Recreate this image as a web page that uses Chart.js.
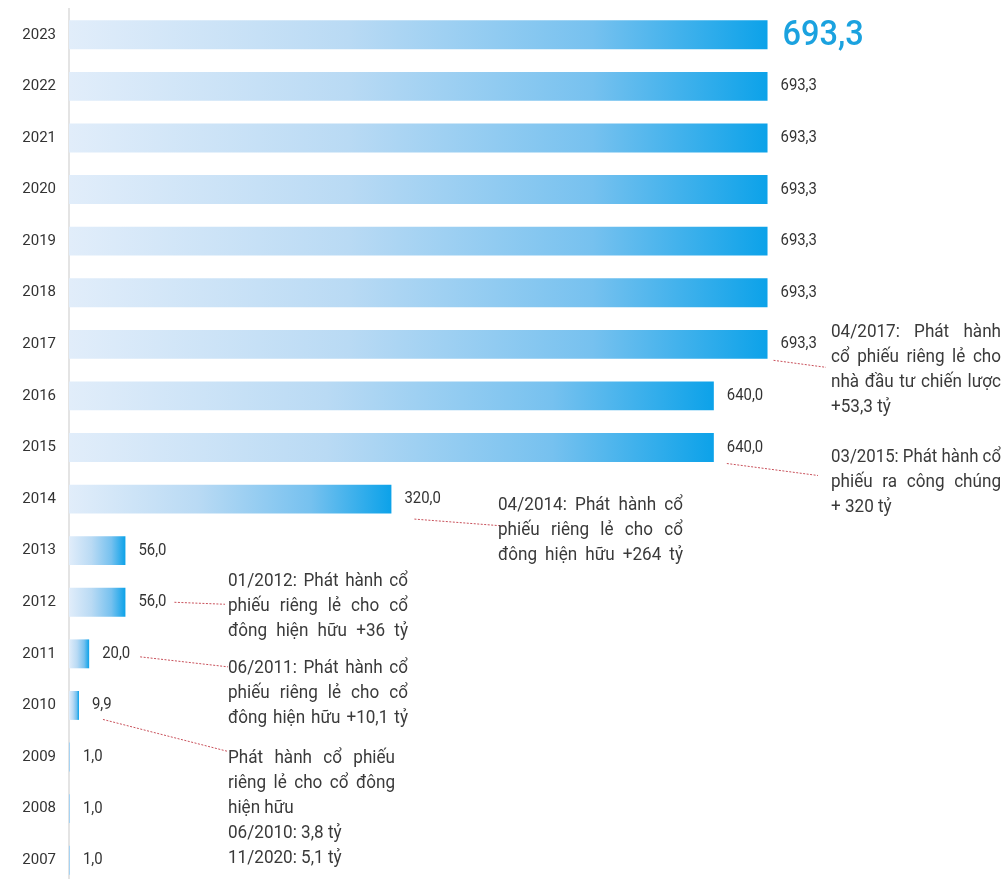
<!DOCTYPE html>
<html>
<head>
<meta charset="utf-8">
<script src="https://cdn.jsdelivr.net/npm/chart.js@4"></script>
<style>
  html, body { margin: 0; padding: 0; background: #fff; overflow: hidden; }
  #wrap { position: relative; width: 1004px; height: 886px; }
</style>
</head>
<body>
<div id="wrap"><canvas id="c"></canvas></div>
<script>
// Vốn điều lệ theo năm (tỷ đồng)
const years = ['2023', '2022', '2021', '2020', '2019', '2018', '2017', '2016', '2015',
               '2014', '2013', '2012', '2011', '2010', '2009', '2008', '2007'];
const charterCapital = [693.3, 693.3, 693.3, 693.3, 693.3, 693.3, 693.3, 640.0, 640.0,
                        320.0, 56.0, 56.0, 20.0, 9.9, 1.0, 1.0, 1.0];

// Ghi chú các đợt phát hành
const noteYears = ['2017', '2015', '2014', '2012', '2011', '2010'];
const noteLines = [
  ['04/2017: Phát hành', 'cổ phiếu riêng lẻ cho', 'nhà đầu tư chiến lược', '+53,3 tỷ'],
  ['03/2015: Phát hành cổ', 'phiếu ra công chúng', '+ 320 tỷ'],
  ['04/2014: Phát hành cổ', 'phiếu riêng lẻ cho cổ', 'đông hiện hữu +264 tỷ'],
  ['01/2012: Phát hành cổ', 'phiếu riêng lẻ cho cổ', 'đông hiện hữu +36 tỷ'],
  ['06/2011: Phát hành cổ', 'phiếu riêng lẻ cho cổ', 'đông hiện hữu +10,1 tỷ'],
  ['Phát hành cổ phiếu', 'riêng lẻ cho cổ đông', 'hiện hữu', '06/2010: 3,8 tỷ', '11/2020: 5,1 tỷ']
];
const noteJustifiedCount = [3, 2, 3, 3, 3, 2];

// Vị trí khối ghi chú: x/w tuyệt đối, dy so với tâm thanh, đường nối từ cuối thanh
const noteLayout = [
  { x: 831, w: 170, dy: -12, from: [6, 16],  to: [826, 23] },
  { x: 831, w: 170, dy: 10,  from: [13, 16], to: [818, 28] },
  { x: 498, w: 185, dy: 6,   from: [23, 20], to: [505, 27] },
  { x: 228, w: 180, dy: -21, from: [49, 0],  to: [225, 2] },
  { x: 228, w: 180, dy: 14,  from: [51, 3],  to: [228, 13] },
  { x: 228, w: 167, dy: 53,  from: [24, 14], to: [228, 46] }
];
const NOTE_GAP = 25;
const NOTE_STRETCH = 0.9;    // chữ ghi chú dạng hẹp
const LABEL_STRETCH = 0.93;
const TEXT_FONT = '"Roboto", "DejaVu Sans", sans-serif';

function fmt(v) { return v.toFixed(1).replace('.', ','); }

function barFill(context) {
  const chart = context.chart;
  if (!chart.chartArea) return '#10a4ea';
  const xs = chart.scales.x;
  const x0 = xs.getPixelForValue(0);
  const x1 = Math.max(xs.getPixelForValue(context.raw), x0 + 1);
  const g = chart.ctx.createLinearGradient(x0, 0, x1, 0);
  g.addColorStop(0, '#e1edfa');
  g.addColorStop(0.4, '#b9daf4');
  g.addColorStop(0.75, '#76c1ef');
  g.addColorStop(1, '#0ca2e9');
  return g;
}

function drawWord(ctx, word, x, y, sx) {
  ctx.save();
  ctx.translate(x, y);
  ctx.scale(sx, 1);
  ctx.fillText(word, 0, 0);
  ctx.restore();
}

function drawLine(ctx, text, x, y, width, justify) {
  let sx = NOTE_STRETCH;
  const natural = ctx.measureText(text).width * sx;
  if (natural > width) sx = sx * width / natural;
  const words = text.split(' ');
  if (!justify || words.length < 2) { drawWord(ctx, text, x, y, sx); return; }
  const widths = words.map(w => ctx.measureText(w).width * sx);
  const gap = (width - widths.reduce((a, b) => a + b, 0)) / (words.length - 1);
  let cx = x;
  words.forEach((w, i) => { drawWord(ctx, w, cx, y, sx); cx += widths[i] + gap; });
}

const labelsPlugin = {
  id: 'valueLabelsAndNotes',
  afterDatasetsDraw(chart) {
    const { ctx } = chart;
    const meta = chart.getDatasetMeta(0);
    ctx.save();
    ctx.textBaseline = 'middle';
    ctx.textAlign = 'left';
    meta.data.forEach((bar, i) => {
      const txt = fmt(charterCapital[i]);
      if (i === 0) {
        ctx.font = '500 35px ' + TEXT_FONT;
        ctx.fillStyle = '#1ba2df';
        drawWord(ctx, txt, bar.x + 15, bar.y + 1, LABEL_STRETCH);
      } else {
        ctx.font = '16px ' + TEXT_FONT;
        ctx.fillStyle = '#333333';
        drawWord(ctx, txt, bar.x + 13, bar.y, LABEL_STRETCH);
      }
    });

    noteYears.forEach((yr, n) => {
      const idx = years.indexOf(yr);
      const bar = meta.data[idx];
      const L = noteLayout[n];
      // đường nối chấm đỏ
      ctx.save();
      ctx.strokeStyle = '#c8505a';
      ctx.lineWidth = 1;
      ctx.setLineDash([2, 1.5]);
      ctx.beginPath();
      ctx.moveTo(bar.x + L.from[0], bar.y + L.from[1]);
      ctx.lineTo(L.to[0], bar.y + L.to[1]);
      ctx.stroke();
      ctx.restore();
      // khối chữ
      ctx.font = '19px ' + TEXT_FONT;
      ctx.fillStyle = '#3a3a3a';
      noteLines[n].forEach((line, k) => {
        drawLine(ctx, line, L.x, bar.y + L.dy + k * NOTE_GAP, L.w, k < noteJustifiedCount[n]);
      });
    });
    ctx.restore();
  }
};

new Chart(document.getElementById('c'), {
  type: 'bar',
  data: {
    labels: years,
    datasets: [{
      data: charterCapital,
      backgroundColor: barFill,
      borderWidth: 0,
      categoryPercentage: 1,
      barPercentage: 0.56
    }]
  },
  options: {
    indexAxis: 'y',
    responsive: true,
    maintainAspectRatio: false,
    animation: false,
    layout: { padding: { top: 9, right: 0, bottom: 0, left: 0 } },
    plugins: { legend: { display: false }, tooltip: { enabled: false } },
    scales: {
      x: { display: false, min: 0, max: 928 },
      y: {
        grid: { display: false, drawTicks: false },
        border: { display: true, color: '#e4e4e4', width: 2 },
        ticks: { color: '#333333', padding: 13, font: { family: TEXT_FONT, size: 15 } },
        afterFit(scale) {
          scale.width = 69;
          scale.paddingTop = 0;
          scale.paddingBottom = 0;
        }
      }
    }
  },
  plugins: [labelsPlugin]
});
</script>
</body>
</html>
